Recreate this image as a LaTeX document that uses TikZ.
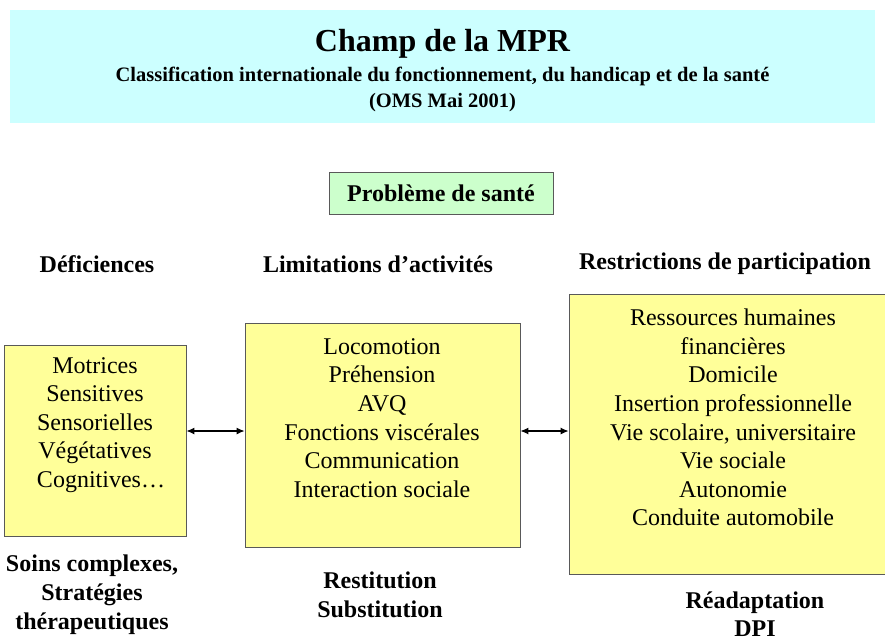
\documentclass[tikz,border=0pt]{standalone}
\usepackage{fontspec}
\setmainfont{Liberation Serif}
\usetikzlibrary{arrows.meta}
\definecolor{titlecyan}{HTML}{CCFFFF}
\definecolor{santegreen}{HTML}{CCFFCC}
\definecolor{boxyellow}{HTML}{FFFF99}
\tikzset{
  yellowbox/.style={draw=black!65, fill=boxyellow, line width=0.9pt, inner sep=0pt},
  header/.style={font=\fontsize{24}{29}\selectfont\bfseries, align=center},
  liste/.style={font=\fontsize{24}{28.6}\selectfont, align=center},
}

\begin{document}
\begin{tikzpicture}[x=1pt,y=-1pt]
\useasboundingbox (0,0) rectangle (885,639);
% bandeau du titre
\node[fill=titlecyan, minimum width=865pt, minimum height=113pt] (bandeau) at (442.5,66.5) {};
\node[font=\fontsize{32}{36}\selectfont\bfseries] (titre) at (442.5,44) {Champ de la MPR};
\node[font=\fontsize{20.5}{26}\selectfont\bfseries, align=center] (soustitre) at (442.5,89)
  {Classification internationale du fonctionnement, du handicap et de la santé\\(OMS Mai 2001)};
\node[draw=black!65, fill=santegreen, minimum width=224pt, minimum height=42pt,
  font=\fontsize{24}{28}\selectfont\bfseries] (sante) at (441,193) {Problème de santé};
% les trois colonnes
\node[header] (deficiences) at (97,264) {Déficiences};
\node[header] (limitations) at (378,264) {Limitations d’activités};
\node[header] (restrictions) at (725,264) {Restrictions de participation};
\node[yellowbox, minimum width=182pt, minimum height=191pt] (gauche) at (95,440.5) {};
\node[yellowbox, minimum width=275pt, minimum height=224pt] (milieu) at (382.5,435) {};
\node[yellowbox, minimum width=331pt, minimum height=280pt] (droite) at (734.5,434) {};
\node[liste] (listegauche) at (95,425)
  {Motrices\\Sensitives\\Sensorielles\\Végétatives\\\hspace*{0.5em}Cognitives…};
\node[liste] (listemilieu) at (382,418)
  {Locomotion\\Préhension\\AVQ\\Fonctions viscérales\\Communication\\Interaction sociale};
\node[liste] (listedroite) at (733,417.5)
  {Ressources humaines\\financières\\Domicile\\Insertion professionnelle\\Vie scolaire, universitaire\\Vie sociale\\Autonomie\\Conduite automobile};
\draw[{Latex[length=8pt,width=7pt]}-{Latex[length=8pt,width=7pt]}, line width=1.1pt]
  ([yshift=4pt]gauche.east |- milieu.west) -- ([yshift=4pt]milieu.west);
\draw[{Latex[length=8pt,width=7pt]}-{Latex[length=8pt,width=7pt]}, line width=1.1pt]
  ([yshift=4pt]milieu.east) -- ([yshift=4pt]droite.west |- milieu.east);
% prises en charge
\node[header] (soins) at (92,594.5) {Soins complexes,\\Stratégies\\thérapeutiques};
\node[header] (restitution) at (380,595) {Restitution\\Substitution};
\node[header, font=\fontsize{24}{27.5}\selectfont\bfseries] (readaptation) at (755,614) {Réadaptation\\DPI};
\end{tikzpicture}
\end{document}
